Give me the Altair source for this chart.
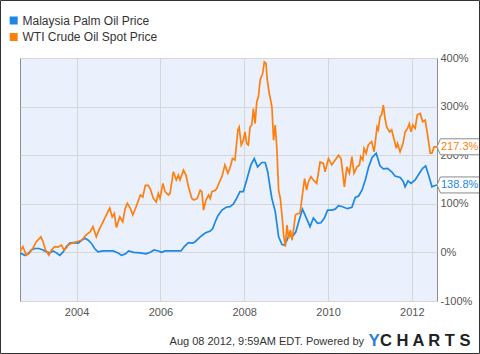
import altair as alt
import pandas as pd

SERIES = ["Malaysia Palm Oil Price", "WTI Crude Oil Spot Price"]
COLORS = ["#1c87e4", "#ff7f0e"]

# decimal years / percent change
wti_dates = [
    2002.65, 2002.67, 2002.72, 2002.80, 2002.88, 2002.96, 2003.04, 2003.15, 2003.20, 2003.26,
    2003.34, 2003.40, 2003.48, 2003.56, 2003.64, 2003.70, 2003.76, 2003.80, 2003.88, 2004.00,
    2004.12, 2004.23, 2004.32, 2004.39, 2004.47, 2004.55, 2004.63, 2004.71, 2004.79, 2004.85,
    2004.90, 2004.95, 2005.03, 2005.10, 2005.16, 2005.21, 2005.28, 2005.34, 2005.42, 2005.52,
    2005.58, 2005.64, 2005.71, 2005.77, 2005.83, 2005.90, 2005.95, 2005.99, 2006.06, 2006.11,
    2006.19, 2006.23, 2006.31, 2006.38, 2006.43, 2006.47, 2006.55, 2006.61, 2006.67, 2006.75,
    2006.80, 2006.88, 2006.95, 2006.99, 2007.03, 2007.09, 2007.15, 2007.19, 2007.23, 2007.31,
    2007.35, 2007.41, 2007.47, 2007.54, 2007.61, 2007.66, 2007.72, 2007.78, 2007.85, 2007.88,
    2007.93, 2007.98, 2008.02, 2008.06, 2008.10, 2008.14, 2008.18, 2008.22, 2008.26, 2008.30,
    2008.34, 2008.38, 2008.44, 2008.48, 2008.52, 2008.55, 2008.59, 2008.66, 2008.70, 2008.74,
    2008.78, 2008.82, 2008.86, 2008.90, 2008.94, 2008.98, 2009.02, 2009.06, 2009.10, 2009.14,
    2009.18, 2009.22, 2009.28, 2009.33, 2009.38, 2009.44, 2009.49, 2009.53, 2009.59, 2009.65,
    2009.73, 2009.81, 2009.89, 2009.93, 2010.01, 2010.09, 2010.17, 2010.25, 2010.31, 2010.39,
    2010.45, 2010.51, 2010.57, 2010.62, 2010.69, 2010.75, 2010.78, 2010.83, 2010.86, 2010.91,
    2010.96, 2011.04, 2011.10, 2011.17, 2011.20, 2011.24, 2011.28, 2011.32, 2011.36, 2011.40,
    2011.47, 2011.52, 2011.56, 2011.63, 2011.66, 2011.72, 2011.79, 2011.84, 2011.90, 2011.94,
    2011.98, 2012.02, 2012.08, 2012.13, 2012.20, 2012.26, 2012.32, 2012.37, 2012.44, 2012.48,
    2012.53, 2012.60,
]
wti_values = [
    0, 5, 12, -6, -1, 9, 22, 32, 22, 5,
    -6, 5, 12, 11, 15, 5, 9, 15, 19, 22,
    25, 36, 42, 53, 32, 49, 63, 77, 91, 73,
    80, 51, 73, 63, 91, 101, 91, 77, 94, 118,
    114, 138, 138, 128, 111, 104, 121, 111, 142, 125,
    118, 121, 166, 149, 159, 149, 169, 159, 135, 111,
    108, 111, 128, 125, 87, 108, 118, 111, 125, 128,
    132, 145, 156, 180, 163, 173, 193, 190, 252, 258,
    221, 231, 248, 224, 221, 258, 262, 296, 265, 310,
    320, 355, 368, 392, 389, 355, 331, 300, 231, 262,
    211, 128, 111, 77, 36, 12, 56, 29, 46, 25,
    49, 77, 80, 80, 114, 152, 128, 145, 156, 149,
    142, 186, 183, 166, 193, 180, 190, 200, 193, 135,
    176, 163, 197, 163, 176, 180, 197, 190, 214, 204,
    221, 228, 207, 258, 252, 279, 283, 303, 276, 258,
    248, 252, 238, 214, 224, 207, 224, 248, 255, 265,
    248, 262, 255, 283, 286, 269, 272, 245, 204, 204,
    217, 217.3,
]

palm_dates = [
    2002.65, 2002.67, 2002.76, 2002.84, 2002.92, 2003.00, 2003.10, 2003.20, 2003.28, 2003.36,
    2003.44, 2003.52, 2003.60, 2003.68, 2003.76, 2003.84, 2003.92, 2004.04, 2004.12, 2004.20,
    2004.28, 2004.35, 2004.43, 2004.51, 2004.63, 2004.75, 2004.87, 2004.99, 2005.07, 2005.17,
    2005.24, 2005.36, 2005.52, 2005.66, 2005.77, 2005.85, 2005.95, 2006.03, 2006.11, 2006.23,
    2006.35, 2006.49, 2006.57, 2006.67, 2006.77, 2006.83, 2006.95, 2007.07, 2007.19, 2007.25,
    2007.31, 2007.37, 2007.47, 2007.57, 2007.66, 2007.74, 2007.82, 2007.90, 2007.98, 2008.06,
    2008.16, 2008.24, 2008.32, 2008.42, 2008.50, 2008.56, 2008.62, 2008.66, 2008.74, 2008.82,
    2008.90, 2008.96, 2009.02, 2009.07, 2009.14, 2009.23, 2009.31, 2009.39, 2009.47, 2009.57,
    2009.65, 2009.75, 2009.83, 2009.91, 2009.99, 2010.09, 2010.17, 2010.25, 2010.35, 2010.46,
    2010.57, 2010.65, 2010.73, 2010.81, 2010.89, 2010.97, 2011.05, 2011.15, 2011.24, 2011.32,
    2011.42, 2011.52, 2011.60, 2011.72, 2011.79, 2011.84, 2011.91, 2011.98, 2012.08, 2012.18,
    2012.26, 2012.33, 2012.40, 2012.48, 2012.54, 2012.60,
]
palm_values = [
    0, -2, -6, -3, 5, 8, 8, 5, 1, -1,
    3, -1, -6, 1, 12, 19, 20, 19, 25, 29,
    25, 19, 8, 1, 3, 3, 3, -1, -6, -3,
    3, 0, -1, -3, 1, 5, 3, 0, 3, 3,
    3, 3, 12, 20, 19, 22, 32, 40, 44, 49,
    63, 75, 87, 93, 94, 99, 111, 125, 125, 149,
    180, 193, 176, 185, 185, 166, 132, 111, 84, 32,
    16, 15, 25, 36, 32, 42, 66, 89, 73, 53,
    71, 60, 61, 70, 87, 87, 89, 96, 94, 90,
    93, 113, 116, 128, 149, 176, 195, 204, 178, 172,
    173, 166, 157, 154, 147, 135, 147, 142, 149, 163,
    173, 178, 159, 135, 137, 138.8,
]

year_ticks = [2004, 2006, 2008, 2010, 2012]
pct_ticks = [-100, 0, 100, 200, 300, 400]
end_labels = ["138.8%", "217.3%"]
footer_text = "Aug 08 2012, 9:59AM EDT. Powered by"

FONT = "Liberation Sans"


def to_ts(t):
    y = int(t)
    start = pd.Timestamp(year=y, month=1, day=1)
    ndays = (pd.Timestamp(year=y + 1, month=1, day=1) - start).days
    return start + pd.Timedelta(days=(t - y) * ndays)


rows = []
for name, ts, vs in [(SERIES[0], palm_dates, palm_values), (SERIES[1], wti_dates, wti_values)]:
    for t, v in zip(ts, vs):
        rows.append({"date": to_ts(t), "value": v, "series": name})
df = pd.DataFrame(rows)

ends = pd.DataFrame({
    "date": [to_ts(palm_dates[-1]), to_ts(wti_dates[-1])],
    "value": [palm_values[-1], wti_values[-1]],
    "series": SERIES,
    "label": end_labels,
})

x_dom = [to_ts(wti_dates[0]).isoformat(), to_ts(wti_dates[-1]).isoformat()]
x_scale = alt.Scale(domain=x_dom)
y_scale = alt.Scale(domain=[-100, 400], nice=False)
color_scale = alt.Scale(domain=SERIES, range=COLORS)

x_enc = alt.X(
    "date:T", scale=x_scale, title=None,
    axis=alt.Axis(
        values=[alt.DateTime(year=y, month=1, date=1) for y in year_ticks],
        format="%Y", ticks=False, domain=False, labelPadding=5,
        labelFont=FONT, labelFontSize=11, labelColor="#555555",
        gridColor="#d6d6d6", labelFlush=False,
    ),
)
y_enc = alt.Y(
    "value:Q", scale=y_scale, title=None,
    axis=alt.Axis(
        orient="right", values=pct_ticks, labelExpr="datum.value + '%'",
        ticks=False, domain=False, labelPadding=3,
        labelFont=FONT, labelFontSize=11, labelColor="#555555",
        gridColor="#d6d6d6", labelFlush=False,
    ),
)

lines = alt.Chart(df).mark_line(strokeWidth=1.7, clip=True).encode(
    x=x_enc, y=y_enc,
    color=alt.Color("series:N", scale=color_scale, legend=None),
    detail="series:N",
)

# callout box: tip at the point, box 43 px wide x 16 px high
badge_path = "M0,0 L0.08,-0.186 L1,-0.186 L1,0.186 L0.08,0.186 Z"
badges = alt.Chart(ends).mark_point(
    shape=badge_path, size=7396, filled=True,
    fill="white", stroke="#8a8a8a", strokeWidth=1, opacity=1,
).encode(x="date:T", y="value:Q")

badge_text = alt.Chart(ends).mark_text(
    align="left", baseline="middle", dx=4, font=FONT, fontSize=11,
).encode(
    x="date:T", y="value:Q", text="label:N",
    color=alt.Color("series:N", scale=color_scale, legend=None),
)

# legend + footer + frame (decoration, pixel positions relative to plot origin)
legend_layers = []
for i, (name, col) in enumerate(zip(SERIES, COLORS)):
    yy = -37.5 + i * 16.5
    legend_layers.append(
        alt.Chart(pd.DataFrame({"t": [name]})).mark_square(size=64, color=col, opacity=1).encode(
            x=alt.value(-6.3), y=alt.value(yy)
        )
    )
    legend_layers.append(
        alt.Chart(pd.DataFrame({"t": [name]})).mark_text(
            align="left", baseline="middle", font=FONT, fontSize=12, color="#333333"
        ).encode(x=alt.value(2.5), y=alt.value(yy), text="t:N")
    )

footer = alt.Chart(pd.DataFrame({"t": [footer_text]})).mark_text(
    align="right", baseline="middle", font=FONT, fontSize=11, color="#333333"
).encode(x=alt.value(344), y=alt.value(283.5), text="t:N")

logo_y = alt.Chart(pd.DataFrame({"t": ["Y"]})).mark_text(
    align="left", baseline="middle", font=FONT, fontSize=17, fontWeight="bold", color="#2f7de1"
).encode(x=alt.value(348.5), y=alt.value(282.5), text="t:N")

logo_rest = alt.Chart(pd.DataFrame({"t": ["C H A R T S"]})).mark_text(
    align="right", baseline="middle", font=FONT, fontSize=16.5, fontWeight="bold", color="#222222"
).encode(x=alt.value(450.5), y=alt.value(282.5), text="t:N")

frame = alt.Chart(pd.DataFrame({"t": [0]})).mark_rect(
    fillOpacity=0, stroke="#333333", strokeWidth=1
).encode(
    x=alt.value(-19.5), x2=alt.value(459.5), y=alt.value(-57.5), y2=alt.value(295.5)
)

chart = alt.layer(
    lines, badges, badge_text, *legend_layers, footer, logo_y, logo_rest, frame
).properties(
    width=417, height=243,
    padding={"left": 20, "top": 58, "right": 43, "bottom": 53},
    autosize=alt.AutoSizeParams(type="none"),
    background="white",
).configure_view(
    fill="#eaf1fc", stroke="#8c8c8c", strokeWidth=1,
)

chart.save("out.html", embed_options={"renderer": "svg", "actions": False})
